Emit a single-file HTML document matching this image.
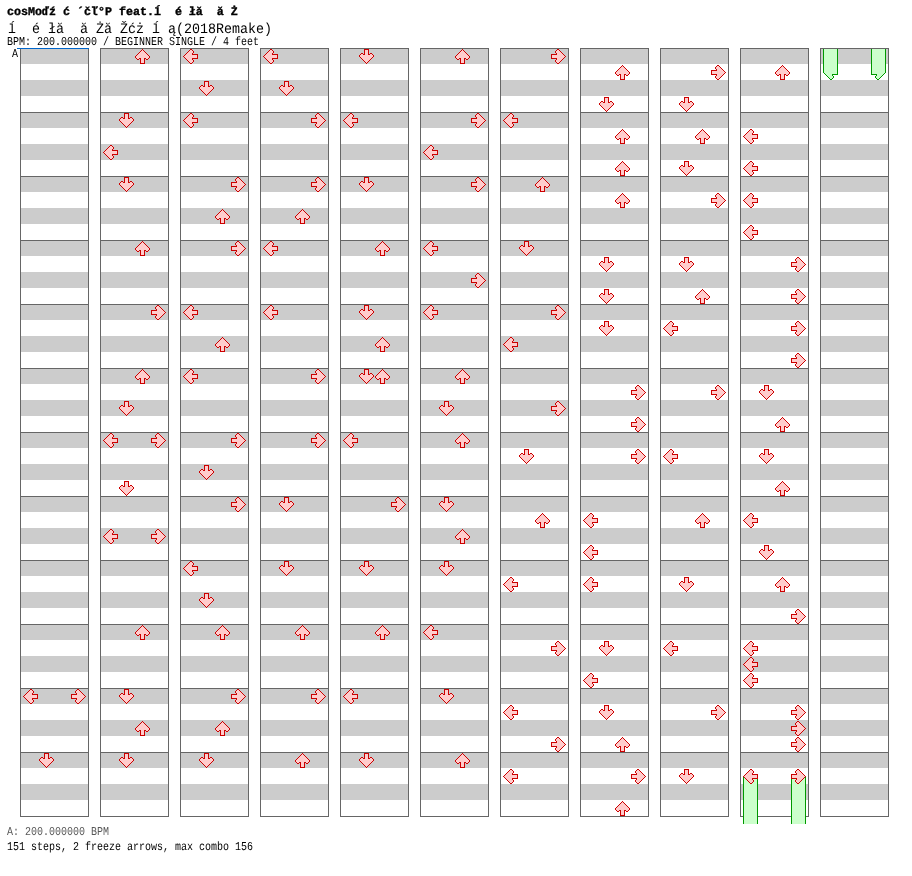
<!DOCTYPE html>
<html lang="ja"><head><meta charset="utf-8"><title>cosMo＠暴走P feat.初音ミク - step chart</title>
<style>
html,body{margin:0;padding:0;background:#fff}
body{width:912px;height:876px;position:relative;overflow:hidden;font-family:"Liberation Mono","DejaVu Sans Mono",monospace;color:#000}
svg{position:absolute;left:0;top:0;display:block}
.t{position:absolute;white-space:pre;line-height:1;transform-origin:0 0;margin:0;will-change:transform;-webkit-font-smoothing:antialiased;text-rendering:geometricPrecision}
#t1{left:7px;top:7px;font-size:11.6667px;font-weight:bold;-webkit-text-stroke:0.35px #000;transform:scale(1,1.0)}
#t2{left:8px;top:23px;font-size:13.3333px;transform:scale(1,1.08)}
#t3{left:7px;top:38px;font-size:10px;transform:scale(1,1.2)}
#ta{left:11.5px;top:50px;font-size:10px;transform:scale(1,1.2)}
#t4{left:7px;top:828px;font-size:10px;color:#585858;transform:scale(1,1.2)}
#t5{left:7px;top:843px;font-size:10px;transform:scale(1,1.2)}
</style></head><body>
<svg width="912" height="876" viewBox="0 0 912 876" shape-rendering="crispEdges">
<defs>
<g id="aL"><path fill="#ffcccc" d="M7 1h2v1h-2zM6 2h4v1h-4zM5 3h5v1h-5zM4 4h5v1h-5zM3 5h6v1h-6zM2 6h12v1h-12zM1 7h13v1h-13zM2 8h12v1h-12zM3 9h6v1h-6zM4 10h5v1h-5zM5 11h5v1h-5zM6 12h4v1h-4zM7 13h2v1h-2z"/><path fill="#cc0000" d="M7 0h2v1h-2zM6 1h1v1h-1zM9 1h1v1h-1zM5 2h1v1h-1zM10 2h1v1h-1zM4 3h1v1h-1zM10 3h1v1h-1zM3 4h1v1h-1zM9 4h1v1h-1zM2 5h1v1h-1zM9 5h6v1h-6zM1 6h1v1h-1zM14 6h1v1h-1zM0 7h1v1h-1zM14 7h1v1h-1zM1 8h1v1h-1zM14 8h1v1h-1zM2 9h1v1h-1zM9 9h6v1h-6zM3 10h1v1h-1zM9 10h1v1h-1zM4 11h1v1h-1zM10 11h1v1h-1zM5 12h1v1h-1zM10 12h1v1h-1zM6 13h1v1h-1zM9 13h1v1h-1zM7 14h2v1h-2z"/></g>
<g id="aD"><path fill="#ffcccc" d="M6 1h3v1h-3zM6 2h3v1h-3zM6 3h3v1h-3zM6 4h3v1h-3zM2 5h2v1h-2zM6 5h3v1h-3zM11 5h2v1h-2zM1 6h13v1h-13zM1 7h13v1h-13zM2 8h11v1h-11zM3 9h9v1h-9zM4 10h7v1h-7zM5 11h5v1h-5zM6 12h3v1h-3zM7 13h1v1h-1z"/><path fill="#cc0000" d="M5 0h5v1h-5zM5 1h1v1h-1zM9 1h1v1h-1zM5 2h1v1h-1zM9 2h1v1h-1zM5 3h1v1h-1zM9 3h1v1h-1zM2 4h2v1h-2zM5 4h1v1h-1zM9 4h1v1h-1zM11 4h2v1h-2zM1 5h1v1h-1zM4 5h2v1h-2zM9 5h2v1h-2zM13 5h1v1h-1zM0 6h1v1h-1zM14 6h1v1h-1zM0 7h1v1h-1zM14 7h1v1h-1zM1 8h1v1h-1zM13 8h1v1h-1zM2 9h1v1h-1zM12 9h1v1h-1zM3 10h1v1h-1zM11 10h1v1h-1zM4 11h1v1h-1zM10 11h1v1h-1zM5 12h1v1h-1zM9 12h1v1h-1zM6 13h1v1h-1zM8 13h1v1h-1zM7 14h1v1h-1z"/></g>
<g id="aU"><path fill="#ffcccc" d="M7 1h1v1h-1zM6 2h3v1h-3zM5 3h5v1h-5zM4 4h7v1h-7zM3 5h9v1h-9zM2 6h11v1h-11zM1 7h13v1h-13zM1 8h13v1h-13zM2 9h2v1h-2zM6 9h3v1h-3zM11 9h2v1h-2zM6 10h3v1h-3zM6 11h3v1h-3zM6 12h3v1h-3zM6 13h3v1h-3z"/><path fill="#cc0000" d="M7 0h1v1h-1zM6 1h1v1h-1zM8 1h1v1h-1zM5 2h1v1h-1zM9 2h1v1h-1zM4 3h1v1h-1zM10 3h1v1h-1zM3 4h1v1h-1zM11 4h1v1h-1zM2 5h1v1h-1zM12 5h1v1h-1zM1 6h1v1h-1zM13 6h1v1h-1zM0 7h1v1h-1zM14 7h1v1h-1zM0 8h1v1h-1zM14 8h1v1h-1zM1 9h1v1h-1zM4 9h2v1h-2zM9 9h2v1h-2zM13 9h1v1h-1zM2 10h2v1h-2zM5 10h1v1h-1zM9 10h1v1h-1zM11 10h2v1h-2zM5 11h1v1h-1zM9 11h1v1h-1zM5 12h1v1h-1zM9 12h1v1h-1zM5 13h1v1h-1zM9 13h1v1h-1zM5 14h5v1h-5z"/></g>
<g id="aR"><path fill="#ffcccc" d="M6 1h2v1h-2zM5 2h4v1h-4zM5 3h5v1h-5zM6 4h5v1h-5zM6 5h6v1h-6zM1 6h12v1h-12zM1 7h13v1h-13zM1 8h12v1h-12zM6 9h6v1h-6zM6 10h5v1h-5zM5 11h5v1h-5zM5 12h4v1h-4zM6 13h2v1h-2z"/><path fill="#cc0000" d="M6 0h2v1h-2zM5 1h1v1h-1zM8 1h1v1h-1zM4 2h1v1h-1zM9 2h1v1h-1zM4 3h1v1h-1zM10 3h1v1h-1zM5 4h1v1h-1zM11 4h1v1h-1zM0 5h6v1h-6zM12 5h1v1h-1zM0 6h1v1h-1zM13 6h1v1h-1zM0 7h1v1h-1zM14 7h1v1h-1zM0 8h1v1h-1zM13 8h1v1h-1zM0 9h6v1h-6zM12 9h1v1h-1zM5 10h1v1h-1zM11 10h1v1h-1zM4 11h1v1h-1zM10 11h1v1h-1zM4 12h1v1h-1zM9 12h1v1h-1zM5 13h1v1h-1zM8 13h1v1h-1zM6 14h2v1h-2z"/></g>
<g id="tL"><path fill="#ccffcc" d="M2 8h12v1h-12zM3 9h6v1h-6zM4 10h5v1h-5zM5 11h5v1h-5zM6 12h4v1h-4zM7 13h2v1h-2z"/><path fill="#009900" d="M1 8h1v1h-1zM14 8h1v1h-1zM2 9h1v1h-1zM9 9h6v1h-6zM3 10h1v1h-1zM9 10h1v1h-1zM4 11h1v1h-1zM10 11h1v1h-1zM5 12h1v1h-1zM10 12h1v1h-1zM6 13h1v1h-1zM9 13h1v1h-1zM7 14h2v1h-2z"/></g>
<g id="tR"><path fill="#ccffcc" d="M1 8h12v1h-12zM6 9h6v1h-6zM6 10h5v1h-5zM5 11h5v1h-5zM5 12h4v1h-4zM6 13h2v1h-2z"/><path fill="#009900" d="M0 8h1v1h-1zM13 8h1v1h-1zM0 9h6v1h-6zM12 9h1v1h-1zM5 10h1v1h-1zM11 10h1v1h-1zM4 11h1v1h-1zM10 11h1v1h-1zM4 12h1v1h-1zM9 12h1v1h-1zM5 13h1v1h-1zM8 13h1v1h-1zM6 14h2v1h-2z"/></g>
<g id="col"><rect x="0" y="0" width="69" height="769" fill="#666666"/><rect x="1" y="1" width="67" height="767" fill="#fff"/><path fill="#cccccc" d="M1 0h67v16h-67zM1 32h67v16h-67zM1 64h67v16h-67zM1 96h67v16h-67zM1 128h67v16h-67zM1 160h67v16h-67zM1 192h67v16h-67zM1 224h67v16h-67zM1 256h67v16h-67zM1 288h67v16h-67zM1 320h67v16h-67zM1 352h67v16h-67zM1 384h67v16h-67zM1 416h67v16h-67zM1 448h67v16h-67zM1 480h67v16h-67zM1 512h67v16h-67zM1 544h67v16h-67zM1 576h67v16h-67zM1 608h67v16h-67zM1 640h67v16h-67zM1 672h67v16h-67zM1 704h67v16h-67zM1 736h67v16h-67z"/><path fill="#666666" d="M0 0h69v1h-69zM0 64h69v1h-69zM0 128h69v1h-69zM0 192h69v1h-69zM0 256h69v1h-69zM0 320h69v1h-69zM0 384h69v1h-69zM0 448h69v1h-69zM0 512h69v1h-69zM0 576h69v1h-69zM0 640h69v1h-69zM0 704h69v1h-69zM0 768h69v1h-69zM0 0h1v769h-1zM68 0h1v769h-1z"/></g>
</defs>
<rect width="912" height="876" fill="#fff"/>
<use href="#col" x="20" y="48"/>
<use href="#col" x="100" y="48"/>
<use href="#col" x="180" y="48"/>
<use href="#col" x="260" y="48"/>
<use href="#col" x="340" y="48"/>
<use href="#col" x="420" y="48"/>
<use href="#col" x="500" y="48"/>
<use href="#col" x="580" y="48"/>
<use href="#col" x="660" y="48"/>
<use href="#col" x="740" y="48"/>
<use href="#col" x="820" y="48"/>
<rect x="17" y="48" width="72" height="1" fill="#0066cc"/>
<rect x="743" y="776" width="15" height="48" fill="#ccffcc"/><rect x="743" y="776" width="1" height="48" fill="#009900"/><rect x="757" y="776" width="1" height="48" fill="#009900"/>
<rect x="823" y="49" width="15" height="24" fill="#ccffcc"/><rect x="823" y="49" width="1" height="24" fill="#009900"/><rect x="837" y="49" width="1" height="24" fill="#009900"/>
<use href="#tL" x="823" y="65"/>
<rect x="791" y="776" width="15" height="48" fill="#ccffcc"/><rect x="791" y="776" width="1" height="48" fill="#009900"/><rect x="805" y="776" width="1" height="48" fill="#009900"/>
<rect x="871" y="49" width="15" height="24" fill="#ccffcc"/><rect x="871" y="49" width="1" height="24" fill="#009900"/><rect x="885" y="49" width="1" height="24" fill="#009900"/>
<use href="#tR" x="871" y="65"/>
<use href="#aL" x="23" y="689"/>
<use href="#aR" x="71" y="689"/>
<use href="#aD" x="39" y="753"/>
<use href="#aU" x="135" y="49"/>
<use href="#aD" x="119" y="113"/>
<use href="#aL" x="103" y="145"/>
<use href="#aD" x="119" y="177"/>
<use href="#aU" x="135" y="241"/>
<use href="#aR" x="151" y="305"/>
<use href="#aU" x="135" y="369"/>
<use href="#aD" x="119" y="401"/>
<use href="#aL" x="103" y="433"/>
<use href="#aR" x="151" y="433"/>
<use href="#aD" x="119" y="481"/>
<use href="#aL" x="103" y="529"/>
<use href="#aR" x="151" y="529"/>
<use href="#aU" x="135" y="625"/>
<use href="#aD" x="119" y="689"/>
<use href="#aU" x="135" y="721"/>
<use href="#aD" x="119" y="753"/>
<use href="#aL" x="183" y="49"/>
<use href="#aD" x="199" y="81"/>
<use href="#aL" x="183" y="113"/>
<use href="#aR" x="231" y="177"/>
<use href="#aU" x="215" y="209"/>
<use href="#aR" x="231" y="241"/>
<use href="#aL" x="183" y="305"/>
<use href="#aU" x="215" y="337"/>
<use href="#aL" x="183" y="369"/>
<use href="#aR" x="231" y="433"/>
<use href="#aD" x="199" y="465"/>
<use href="#aR" x="231" y="497"/>
<use href="#aL" x="183" y="561"/>
<use href="#aD" x="199" y="593"/>
<use href="#aU" x="215" y="625"/>
<use href="#aR" x="231" y="689"/>
<use href="#aU" x="215" y="721"/>
<use href="#aD" x="199" y="753"/>
<use href="#aL" x="263" y="49"/>
<use href="#aD" x="279" y="81"/>
<use href="#aR" x="311" y="113"/>
<use href="#aR" x="311" y="177"/>
<use href="#aU" x="295" y="209"/>
<use href="#aL" x="263" y="241"/>
<use href="#aL" x="263" y="305"/>
<use href="#aR" x="311" y="369"/>
<use href="#aR" x="311" y="433"/>
<use href="#aD" x="279" y="497"/>
<use href="#aD" x="279" y="561"/>
<use href="#aU" x="295" y="625"/>
<use href="#aR" x="311" y="689"/>
<use href="#aU" x="295" y="753"/>
<use href="#aD" x="359" y="49"/>
<use href="#aL" x="343" y="113"/>
<use href="#aD" x="359" y="177"/>
<use href="#aU" x="375" y="241"/>
<use href="#aD" x="359" y="305"/>
<use href="#aU" x="375" y="337"/>
<use href="#aD" x="359" y="369"/>
<use href="#aU" x="375" y="369"/>
<use href="#aL" x="343" y="433"/>
<use href="#aR" x="391" y="497"/>
<use href="#aD" x="359" y="561"/>
<use href="#aU" x="375" y="625"/>
<use href="#aL" x="343" y="689"/>
<use href="#aD" x="359" y="753"/>
<use href="#aU" x="455" y="49"/>
<use href="#aR" x="471" y="113"/>
<use href="#aL" x="423" y="145"/>
<use href="#aR" x="471" y="177"/>
<use href="#aL" x="423" y="241"/>
<use href="#aR" x="471" y="273"/>
<use href="#aL" x="423" y="305"/>
<use href="#aU" x="455" y="369"/>
<use href="#aD" x="439" y="401"/>
<use href="#aU" x="455" y="433"/>
<use href="#aD" x="439" y="497"/>
<use href="#aU" x="455" y="529"/>
<use href="#aD" x="439" y="561"/>
<use href="#aL" x="423" y="625"/>
<use href="#aD" x="439" y="689"/>
<use href="#aU" x="455" y="753"/>
<use href="#aR" x="551" y="49"/>
<use href="#aL" x="503" y="113"/>
<use href="#aU" x="535" y="177"/>
<use href="#aD" x="519" y="241"/>
<use href="#aR" x="551" y="305"/>
<use href="#aL" x="503" y="337"/>
<use href="#aR" x="551" y="401"/>
<use href="#aD" x="519" y="449"/>
<use href="#aU" x="535" y="513"/>
<use href="#aL" x="503" y="577"/>
<use href="#aR" x="551" y="641"/>
<use href="#aL" x="503" y="705"/>
<use href="#aR" x="551" y="737"/>
<use href="#aL" x="503" y="769"/>
<use href="#aU" x="615" y="65"/>
<use href="#aD" x="599" y="97"/>
<use href="#aU" x="615" y="129"/>
<use href="#aU" x="615" y="161"/>
<use href="#aU" x="615" y="193"/>
<use href="#aD" x="599" y="257"/>
<use href="#aD" x="599" y="289"/>
<use href="#aD" x="599" y="321"/>
<use href="#aR" x="631" y="385"/>
<use href="#aR" x="631" y="417"/>
<use href="#aR" x="631" y="449"/>
<use href="#aL" x="583" y="513"/>
<use href="#aL" x="583" y="545"/>
<use href="#aL" x="583" y="577"/>
<use href="#aD" x="599" y="641"/>
<use href="#aL" x="583" y="673"/>
<use href="#aD" x="599" y="705"/>
<use href="#aU" x="615" y="737"/>
<use href="#aR" x="631" y="769"/>
<use href="#aU" x="615" y="801"/>
<use href="#aR" x="711" y="65"/>
<use href="#aD" x="679" y="97"/>
<use href="#aU" x="695" y="129"/>
<use href="#aD" x="679" y="161"/>
<use href="#aR" x="711" y="193"/>
<use href="#aD" x="679" y="257"/>
<use href="#aU" x="695" y="289"/>
<use href="#aL" x="663" y="321"/>
<use href="#aR" x="711" y="385"/>
<use href="#aL" x="663" y="449"/>
<use href="#aU" x="695" y="513"/>
<use href="#aD" x="679" y="577"/>
<use href="#aL" x="663" y="641"/>
<use href="#aR" x="711" y="705"/>
<use href="#aD" x="679" y="769"/>
<use href="#aU" x="775" y="65"/>
<use href="#aL" x="743" y="129"/>
<use href="#aL" x="743" y="161"/>
<use href="#aL" x="743" y="193"/>
<use href="#aL" x="743" y="225"/>
<use href="#aR" x="791" y="257"/>
<use href="#aR" x="791" y="289"/>
<use href="#aR" x="791" y="321"/>
<use href="#aR" x="791" y="353"/>
<use href="#aD" x="759" y="385"/>
<use href="#aU" x="775" y="417"/>
<use href="#aD" x="759" y="449"/>
<use href="#aU" x="775" y="481"/>
<use href="#aL" x="743" y="513"/>
<use href="#aD" x="759" y="545"/>
<use href="#aU" x="775" y="577"/>
<use href="#aR" x="791" y="609"/>
<use href="#aL" x="743" y="641"/>
<use href="#aL" x="743" y="657"/>
<use href="#aL" x="743" y="673"/>
<use href="#aR" x="791" y="705"/>
<use href="#aR" x="791" y="721"/>
<use href="#aR" x="791" y="737"/>
<use href="#aL" x="743" y="769"/>
<use href="#aR" x="791" y="769"/>
</svg>
<div class="t" id="t1">cosMoďź ć ´čľ°P feat.ĺ  é łă  ă Ż</div>
<div class="t" id="t2">ĺ  é łă  ă Żă Žćż ĺ ą(2018Remake)</div>
<div class="t" id="t3">BPM: 200.000000 / BEGINNER SINGLE / 4 feet</div>
<div class="t" id="ta">A</div>
<div class="t" id="t4">A: 200.000000 BPM</div>
<div class="t" id="t5">151 steps, 2 freeze arrows, max combo 156</div>
</body></html>
